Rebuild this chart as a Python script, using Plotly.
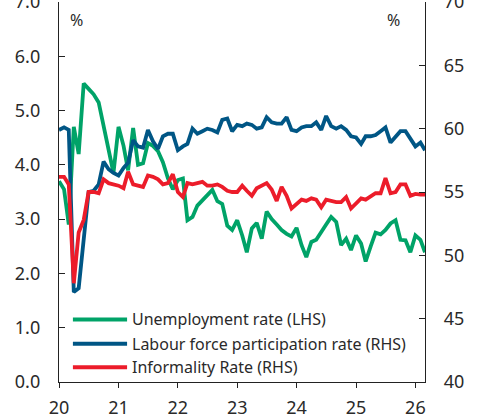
import pandas as pd
import plotly.graph_objects as go

# Monthly observations, Jan 2020 - Mar 2026
months = pd.date_range("2020-01-01", periods=75, freq="MS")

unemployment = [
    3.70, 3.55, 2.90, 4.70, 4.20, 5.50, 5.40, 5.30, 5.15, 4.70,
    4.30, 3.85, 4.70, 4.35, 3.90, 4.68, 4.00, 4.03, 4.40, 4.35,
    4.25, 4.05, 3.75, 3.55, 3.72, 3.75, 2.98, 3.04, 3.25, 3.35,
    3.45, 3.54, 3.33, 3.28, 2.88, 2.80, 2.98, 2.70, 2.39, 2.83,
    2.93, 2.64, 3.14, 3.00, 2.90, 2.80, 2.73, 2.68, 2.84, 2.52,
    2.30, 2.58, 2.62, 2.75, 2.90, 3.04, 2.95, 2.52, 2.64, 2.43,
    2.70, 2.55, 2.22, 2.50, 2.75, 2.72, 2.80, 2.92, 2.98, 2.62,
    2.61, 2.39, 2.70, 2.62, 2.39,
]

participation = [
    59.9, 60.1, 59.9, 47.1, 47.4, 51.5, 55.0, 55.1, 55.6, 57.4,
    56.8, 56.5, 56.3, 56.9, 57.3, 59.1, 58.6, 58.5, 59.9, 59.0,
    58.4, 59.4, 59.6, 59.6, 58.3, 58.6, 58.8, 60.0, 59.6, 59.8,
    60.0, 59.9, 59.7, 60.7, 60.8, 59.8, 60.3, 60.2, 60.4, 60.3,
    60.0, 60.1, 60.9, 60.5, 60.4, 60.4, 60.9, 59.9, 59.8, 60.1,
    60.2, 60.2, 60.5, 59.9, 61.0, 60.2, 60.0, 60.2, 59.9, 59.4,
    59.3, 58.8, 59.4, 59.4, 59.5, 59.8, 60.1, 58.9, 59.4, 59.8,
    59.8, 59.2, 58.6, 58.9, 58.3,
]

informality = [
    56.2, 56.2, 55.6, 47.8, 51.8, 52.8, 55.0, 55.0, 54.9, 56.0,
    55.7, 55.6, 55.5, 55.3, 56.6, 55.6, 55.5, 55.4, 56.3, 56.2,
    56.0, 55.6, 55.7, 56.4, 55.0, 54.6, 55.7, 55.6, 55.7, 55.8,
    55.5, 55.5, 55.6, 55.4, 55.1, 55.0, 55.0, 55.5, 55.1, 54.7,
    55.3, 55.5, 55.7, 55.2, 54.3, 55.4, 54.7, 53.7, 54.1, 54.4,
    54.3, 54.5, 54.4, 53.8, 54.4, 54.3, 54.2, 54.2, 54.6, 53.7,
    54.1, 54.5, 54.4, 54.7, 54.9, 54.9, 56.1, 54.9, 55.0, 55.6,
    55.6, 54.7, 54.85, 54.8, 54.8,
]

series_names = [
    "Unemployment rate (LHS)",
    "Labour force participation rate (RHS)",
    "Informality Rate (RHS)",
]
left_ticks = [0, 1, 2, 3, 4, 5, 6, 7]
right_ticks = [40, 45, 50, 55, 60, 65, 70]

GREEN = "#00A368"
BLUE = "#005685"
RED = "#EC1C2A"
FONT = "Noto Sans"
AX = "#222222"
TXT = "#2a2a2a"

fig = go.Figure()
fig.add_trace(go.Scatter(x=months, y=unemployment, name=series_names[0],
                         mode="lines", line=dict(color=GREEN, width=3.8), yaxis="y"))
fig.add_trace(go.Scatter(x=months, y=participation, name=series_names[1],
                         mode="lines", line=dict(color=BLUE, width=3.8), yaxis="y2"))
fig.add_trace(go.Scatter(x=months, y=informality, name=series_names[2],
                         mode="lines", line=dict(color=RED, width=3.8), yaxis="y2"))

fig.update_layout(
    width=480, height=420, autosize=False,
    margin=dict(l=59, r=55, t=2, b=38, pad=0),
    paper_bgcolor="white", plot_bgcolor="white",
    showlegend=False,
    font=dict(family=FONT, size=18, color=TXT),
    xaxis=dict(
        range=[months[0], months[-1]], automargin=False,
        tickformat="%y", dtick="M12", tick0="2020-01-01",
        ticks="outside", ticklen=5, tickwidth=1.3, tickcolor=AX,
        showline=True, linecolor=AX, linewidth=1.3,
        showgrid=False, zeroline=False, ticklabeloverflow="allow",
        tickfont=dict(size=18, color=TXT), ticklabelstandoff=4,
    ),
    yaxis=dict(
        range=[0, 7], tickvals=left_ticks, tickformat=".1f", automargin=False,
        ticks="inside", ticklen=6, tickwidth=1.3, tickcolor=AX,
        showline=True, linecolor=AX, linewidth=1.3,
        showgrid=False, zeroline=False, ticklabeloverflow="allow",
        tickfont=dict(size=18, color=TXT), ticklabelstandoff=14,
    ),
    yaxis2=dict(
        range=[40, 70], tickvals=right_ticks, automargin=False,
        overlaying="y", side="right",
        ticks="inside", ticklen=6, tickwidth=1.3, tickcolor=AX,
        showline=True, linecolor=AX, linewidth=1.3,
        showgrid=False, zeroline=False, ticklabeloverflow="allow",
        tickfont=dict(size=18, color=TXT), ticklabelstandoff=14,
    ),
)

# unit labels
fig.add_annotation(x=0.049, y=0.9526, xref="paper", yref="paper", text="%",
                   xanchor="center", yanchor="middle",
                   showarrow=False, font=dict(size=16, color=TXT, family=FONT))
fig.add_annotation(x=0.915, y=0.9526, xref="paper", yref="paper", text="%",
                   xanchor="center", yanchor="middle",
                   showarrow=False, font=dict(size=16, color=TXT, family=FONT))

# legend drawn inside the plot
legend_rows = [0.1647, 0.1007, 0.039]
for name, col, yy in zip(series_names, [GREEN, BLUE, RED], legend_rows):
    fig.add_shape(type="line", xref="paper", yref="paper",
                  x0=0.038, x1=0.186, y0=yy, y1=yy,
                  line=dict(color=col, width=4))
    fig.add_annotation(x=0.194, y=yy, xref="paper", yref="paper", text=name,
                       xanchor="left", yanchor="middle", showarrow=False,
                       font=dict(size=16, color=TXT, family=FONT))

fig.write_html("out.html",
               config={"displayModeBar": False},
               post_script="document.body.style.margin='0';document.body.style.overflow='hidden';")
